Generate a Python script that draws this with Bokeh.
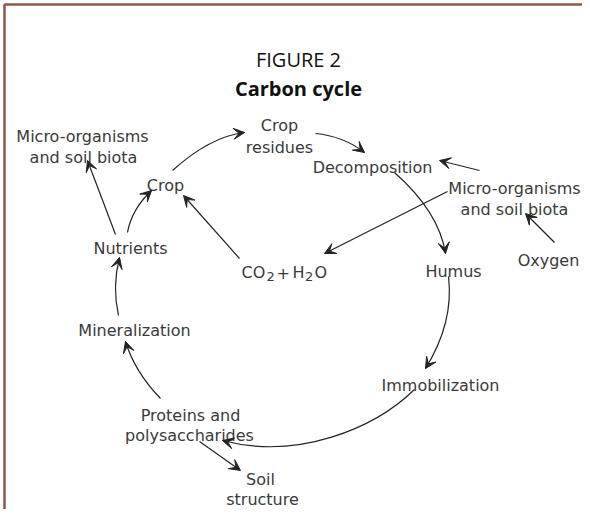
from bokeh.plotting import figure
from bokeh.models import Range1d, Arrow, VeeHead, ColumnDataSource
from bokeh.core.properties import value
from bokeh.embed import file_html
from bokeh.resources import INLINE

# ---------------- data (reference pixel coordinates) ----------------
title_text = ["FIGURE 2", "Carbon cycle"]
title_x = [306, 306]
title_y = [67, 96]

label_text = ["Micro-organisms", "and soil biota", "Crop", "Crop", "residues",
              "Decomposition", "Micro-organisms", "and soil biota", "Oxygen",
              "Nutrients", "Humus", "Mineralization", "Immobilization",
              "Proteins and", "polysaccharides", "Soil", "structure"]
label_x = [90, 91, 173, 287, 287, 380, 522, 522, 556, 138, 461, 142, 448, 198, 197, 268, 270]
label_y = [144, 165, 193, 133, 155, 175, 196, 217, 268, 256, 279, 338, 393, 423, 443, 487, 507]

# CO2 + H2O written in pieces (main text and subscripts)
chem_main = ["CO", "+", "H", "O"]
chem_main_x = [249, 284, 300, 322]
chem_main_y = [280, 280, 280, 280]
chem_sub = ["2", "2"]
chem_sub_x = [274, 312.5]
chem_sub_y = [284, 284]

# straight arrows: start -> end (arrow tip)
line_x0 = [123, 247, 487, 455, 562, 207]
line_y0 = [242, 266, 178, 199, 250, 449]
line_x1 = [95, 191, 447, 332, 533, 248]
line_y1 = [168, 203, 168, 261, 221, 478]

# curved arrows (cubic Bezier): start, control 1, control 2, end (arrow tip)
curve_x0 = [135, 180, 323, 402, 456, 422, 168, 126]
curve_y0 = [240, 178, 141, 180, 284, 397, 406, 323]
curve_cx0 = [137.7, 200, 341.3, 431.7, 459.7, 382, 150.3, 121.7]
curve_cy0 = [224.7, 160, 142.7, 206.3, 314.7, 436, 387.7, 303.7]
curve_cx1 = [145.7, 224, 357.7, 448.7, 452, 305, 138.7, 122]
curve_cy1 = [210.7, 143.3, 149, 233.3, 345.3, 468, 367.7, 284.3]
curve_x1 = [159, 252, 372, 453, 433, 230, 133, 127]
curve_y1 = [198, 140, 160, 261, 376, 448, 349, 265]

# frame (left and top edges of the boxed figure)
frame_x = [12, 12, 640]
frame_y = [560, 12, 12]

# ---------------- figure ----------------
W, H = 582, 509
OFF = 8
p = figure(width=W, height=H, output_backend="svg", toolbar_location=None,
           x_range=Range1d(OFF, OFF + W), y_range=Range1d(OFF + H, OFF),
           min_border=0, outline_line_color=None)
p.axis.visible = False
p.grid.visible = False
p.background_fill_color = "white"
p.border_fill_color = "white"

INK = "#232323"
TXT = "#3a3a3a"
LABEL_FONT = value("DejaVu Sans")

p.line(frame_x, frame_y, line_color="#8c5a4d", line_width=2.5)

p.text(x=title_x[:1], y=title_y[:1], text=title_text[:1], text_font=value("Open Sans"),
       text_font_size="20px", text_align="center", text_baseline="alphabetic",
       text_color="#111111")
p.text(x=title_x[1:], y=title_y[1:], text=title_text[1:], text_font=value("Open Sans"),
       text_font_size="20px", text_font_style="bold", text_align="center",
       text_baseline="alphabetic", text_color="#111111")

p.text(x=label_x, y=label_y, text=label_text, text_font=LABEL_FONT,
       text_font_size="16px", text_align="center", text_baseline="alphabetic",
       text_color=TXT)
p.text(x=chem_main_x, y=chem_main_y, text=chem_main, text_font=LABEL_FONT,
       text_font_size="16px", text_align="left", text_baseline="alphabetic",
       text_color=TXT)
p.text(x=chem_sub_x, y=chem_sub_y, text=chem_sub, text_font=LABEL_FONT,
       text_font_size="13px", text_align="left", text_baseline="alphabetic",
       text_color=TXT)

# curves
p.bezier(x0=curve_x0, y0=curve_y0, x1=curve_x1, y1=curve_y1,
         cx0=curve_cx0, cy0=curve_cy0, cx1=curve_cx1, cy1=curve_cy1,
         line_color=INK, line_width=1.2)

# straight arrows
src_lines = ColumnDataSource(dict(xs=line_x0, ys=line_y0, xe=line_x1, ye=line_y1))
p.add_layout(Arrow(source=src_lines, x_start="xs", y_start="ys", x_end="xe", y_end="ye",
                   line_color=INK, line_width=1.2,
                   end=VeeHead(size=11, fill_color=INK, line_color=INK, line_width=1)))

# heads of curved arrows, oriented along the end tangent (end - control 2)
src_heads = ColumnDataSource(dict(xs=curve_cx1, ys=curve_cy1, xe=curve_x1, ye=curve_y1))
p.add_layout(Arrow(source=src_heads, x_start="xs", y_start="ys", x_end="xe", y_end="ye",
                   line_alpha=0,
                   end=VeeHead(size=11, fill_color=INK, line_color=INK, line_width=1)))

open("out.html", "w").write(file_html(p, INLINE))
